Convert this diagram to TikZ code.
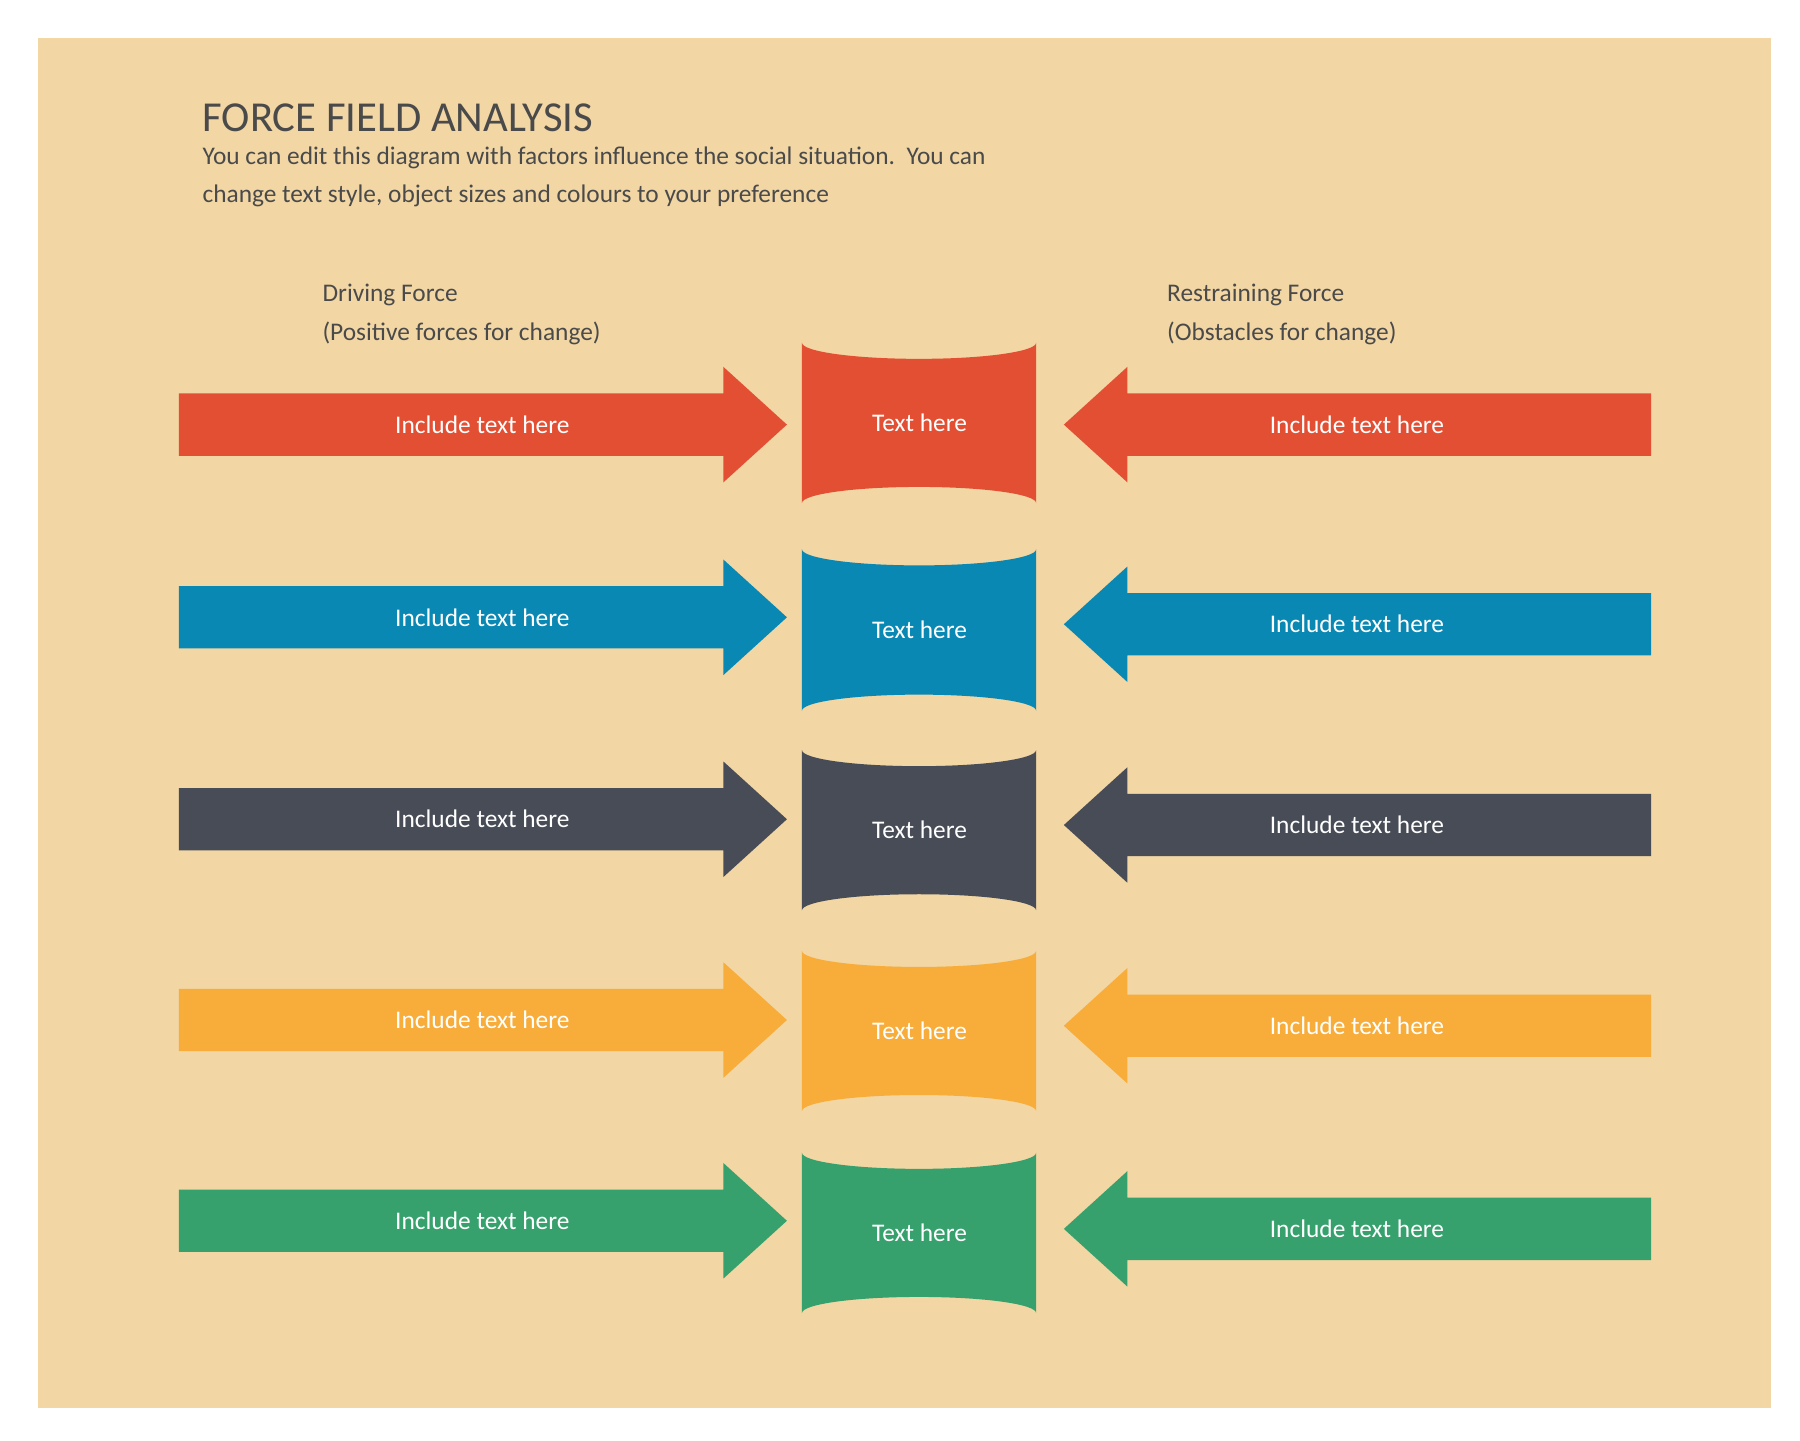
\documentclass[tikz,border=0pt]{standalone}
\usepackage{fontspec}
\setmainfont{Carlito}
\definecolor{bg}{HTML}{F2D6A4}
\definecolor{ink}{HTML}{4A4A4A}
\definecolor{cA}{HTML}{E34F33}
\definecolor{cB}{HTML}{0A88B4}
\definecolor{cC}{HTML}{474C56}
\definecolor{cD}{HTML}{F8AD3A}
\definecolor{cE}{HTML}{36A16D}
\tikzset{lbl/.style={text=white,font=\fontsize{22}{26}\selectfont},
 hdr/.style={text=ink,anchor=west,font=\fontsize{22}{33}\selectfont,align=left}}
\begin{document}
\begin{tikzpicture}[x=1pt,y=-1pt]
\useasboundingbox (0,0) rectangle (1560,1248);
\fill[white] (0,0) rectangle (1560,1248);
\fill[bg] (33,33) rectangle (1535,1220);
\node[anchor=west,text=ink,font=\fontsize{37}{40}\selectfont] (title) at (172,102) {FORCE FIELD ANALYSIS};
\node[hdr,anchor=north west] (sub) at (172,124) {You can edit this diagram with factors influence the social situation.\ \ You can\\change text style, object sizes and colours to your preference};
\node[hdr,anchor=north west] (dl) at (276,243) {Driving Force\\(Positive forces for change)};
\node[hdr,anchor=north west] (rl) at (1008,243) {Restraining Force\\(Obstacles for change)};
\foreach \c/\yl/\yr/\ct/\cb/\i in {cA/368/368/283/450/1,cB/535/541/462/630/2,cC/710/715/636/803/3,cD/884/889/810/977/4,cE/1058/1065/985/1152/5}{
  \fill[\c] (155,\yl-27) -- (627,\yl-27) -- (627,\yl-50) -- (682,\yl) -- (627,\yl+50) -- (627,\yl+27) -- (155,\yl+27) -- cycle;
  \node[lbl] (l\i) at (418,\yl) {Include text here};
  \fill[\c] (1431,\yr-27) -- (977,\yr-27) -- (977,\yr-50) -- (922,\yr) -- (977,\yr+50) -- (977,\yr+27) -- (1431,\yr+27) -- cycle;
  \node[lbl] (r\i) at (1176,\yr) {Include text here};
  \fill[\c] (695,\ct+14) arc[start angle=180,end angle=0,x radius=101.5,y radius=14]
    -- (898,\cb-14) arc[start angle=0,end angle=-180,x radius=101.5,y radius=14] -- cycle;
  \node[lbl] (c\i) at (797,{(\ct+\cb)/2}) {Text here};
}
\end{tikzpicture}
\end{document}
